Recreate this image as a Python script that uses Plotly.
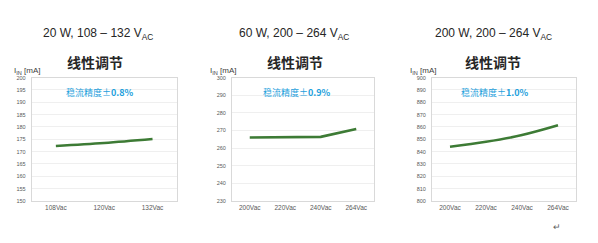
import plotly.graph_objects as go

W, H = 598, 243

# Data
cats1 = ["108Vac", "120Vac", "132Vac"]
vals1 = [172.3, 173.5, 175.1]
cats2 = ["200Vac", "220Vac", "240Vac", "264Vac"]
vals2 = [266.0, 266.0, 266.4, 270.9]
cats3 = ["200Vac", "220Vac", "240Vac", "264Vac"]
vals3 = [844.0, 848.0, 853.4, 861.3]

titles = ["20 W, 108 – 132 V<sub>AC</sub>", "60 W, 200 – 264 V<sub>AC</sub>", "200 W, 200 – 264 V<sub>AC</sub>"]
accuracy = ["0.8%", "0.9%", "1.0%"]
yranges = [(150, 200, 5), (230, 300, 10), (800, 900, 10)]

# layout in pixels
plot_x = [(31.7, 176.7), (232, 374), (432, 576)]
plot_top, plot_bot = 76.5, 203
title_cx = [98, 294, 493]
sub_cx = [95, 295, 493]
acc_cx = [100, 297, 495]
iin_x = [12, 208, 408]

def px(x):
    return x / W

def py(y):
    return 1 - y / H

fig = go.Figure()
green = "#3d7b35"
series = [(cats1, vals1, "spline"), (cats2, vals2, "linear"), (cats3, vals3, "spline")]
annotations = []
for i, (c, v, shape) in enumerate(series):
    ax = "" if i == 0 else str(i + 1)
    fig.add_trace(go.Scatter(x=c, y=v, mode="lines", line=dict(color=green, width=2.6, shape=shape),
                             xaxis="x" + ax, yaxis="y" + ax, showlegend=False, hoverinfo="skip"))
    lo, hi, dt = yranges[i]
    fig.layout["xaxis" + ax] = dict(domain=[px(plot_x[i][0]), px(plot_x[i][1])], anchor="y" + ax,
                                    range=[-0.5, len(c) - 0.5], showgrid=False, showline=True, mirror=True,
                                    linecolor="#d9d9d9", linewidth=1, ticks="", zeroline=False,
                                    tickfont=dict(size=6.5, color="#595959", family="Liberation Sans"),
                                    fixedrange=True)
    fig.layout["yaxis" + ax] = dict(domain=[py(plot_bot), py(plot_top)], anchor="x" + ax,
                                    range=[lo, hi], dtick=dt, tick0=lo, showgrid=True, gridcolor="#efefef",
                                    gridwidth=1, showline=True, mirror=True, linecolor="#d9d9d9", linewidth=1,
                                    ticks="", zeroline=False, ticklabelstandoff=4,
                                    tickfont=dict(size=5.5, color="#595959", family="Liberation Sans"),
                                    fixedrange=True)
    annotations.append(dict(text=titles[i], x=px(title_cx[i]), y=py(32), xref="paper", yref="paper",
                            showarrow=False, xanchor="center", yanchor="middle",
                            font=dict(size=12, color="#262626", family="Liberation Sans")))
    annotations.append(dict(text="<b>线性调节</b>", x=px(sub_cx[i]), y=py(60), xref="paper", yref="paper",
                            showarrow=False, xanchor="center", yanchor="middle",
                            font=dict(size=14, color="#262626", family="Noto Sans CJK SC")))
    annotations.append(dict(text="稳流精度±<b>" + accuracy[i] + "</b>", x=px(acc_cx[i]), y=py(92),
                            xref="paper", yref="paper", showarrow=False, xanchor="center", yanchor="middle",
                            font=dict(size=9, color="#1ea0dc", family="Noto Sans CJK SC")))
    annotations.append(dict(text="I<sub>IN</sub> [mA]", x=px(iin_x[i]), y=py(70), xref="paper", yref="paper",
                            showarrow=False, xanchor="left", yanchor="middle",
                            font=dict(size=8, color="#404040", family="Liberation Sans")))

annotations.append(dict(text="↵", x=px(557), y=py(229), xref="paper", yref="paper", showarrow=False,
                        xanchor="center", yanchor="middle", font=dict(size=9, color="#606060")))

fig.update_layout(width=W, height=H, margin=dict(l=0, r=0, t=0, b=0), paper_bgcolor="white",
                  plot_bgcolor="white", annotations=annotations)
fig.write_html("out.html", config={"displayModeBar": False})
